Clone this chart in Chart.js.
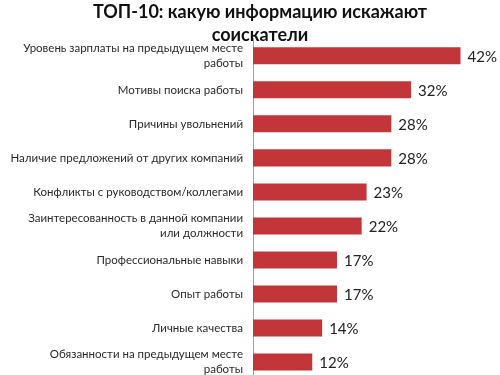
<!DOCTYPE html>
<html lang="ru">
<head>
    <meta charset="UTF-8">
    <title>ТОП-10</title>
    <script src="https://cdn.jsdelivr.net/npm/chart.js@4.4.0/dist/chart.umd.min.js"></script>
    <style>
        html, body { margin: 0; padding: 0; background: #fff; overflow: hidden; }
        .wrap { position: relative; width: 500px; height: 380px; }
    </style>
</head>
<body>
    <div class="wrap">
        <canvas id="myChart" width="500" height="380"></canvas>
    </div>

    <script>
        const titleLines = ['ТОП-10: какую информацию искажают', 'соискатели'];
        const categories = [
            ['Уровень зарплаты на предыдущем месте', 'работы'],
            'Мотивы поиска работы',
            'Причины увольнений',
            'Наличие предложений от других компаний',
            'Конфликты с руководством/коллегами',
            ['Заинтересованность в данной компании', 'или должности'],
            'Профессиональные навыки',
            'Опыт работы',
            'Личные качества',
            ['Обязанности на предыдущем месте', 'работы']
        ];
        const values = [42, 32, 28, 28, 23, 22, 17, 17, 14, 12];

        // draws the "42%" labels at the end of each bar
        const valueLabels = {
            id: 'valueLabels',
            afterLayout(chart) {
                // let long category labels use the left padding instead of being clipped
                chart.scales.y.left = 0;
            },
            afterDatasetsDraw(chart) {
                const ctx = chart.ctx;
                const meta = chart.getDatasetMeta(0);
                ctx.save();
                ctx.font = '15px Lato, "Open Sans", sans-serif';
                ctx.fillStyle = '#222';
                ctx.textAlign = 'left';
                ctx.textBaseline = 'middle';
                meta.data.forEach((bar, i) => {
                    ctx.fillText(values[i] + '%', bar.x + 7, bar.y + 1);
                });
                ctx.restore();
            }
        };

        // slight top-to-bottom shading like the original bars
        function barFill(context) {
            const bar = context.element;
            if (!bar || bar.y === undefined) return '#c2363a';
            const c = context.chart.ctx;
            const h = bar.height || 17;
            const g = c.createLinearGradient(0, bar.y - h / 2, 0, bar.y + h / 2);
            g.addColorStop(0, '#cf4a4c');
            g.addColorStop(0.5, '#c2363a');
            g.addColorStop(1, '#a8282c');
            return g;
        }

        const ctx = document.getElementById('myChart').getContext('2d');
        const myChart = new Chart(ctx, {
            type: 'bar',
            data: {
                labels: categories,
                datasets: [{
                    data: values,
                    backgroundColor: barFill,
                    borderWidth: 0,
                    barPercentage: 0.5,
                    categoryPercentage: 1
                }]
            },
            options: {
                indexAxis: 'y',
                responsive: false,
                animation: false,
                layout: { padding: { left: 20, right: 0, top: 0, bottom: 1 } },
                plugins: {
                    legend: { display: false },
                    tooltip: { enabled: false },
                    title: {
                        display: true,
                        text: titleLines,
                        color: '#111',
                        font: { family: 'Lato, "Open Sans", sans-serif', size: 18, weight: 'bold', lineHeight: 1.3 },
                        padding: { top: 0, bottom: -8 }
                    }
                },
                scales: {
                    x: {
                        display: false,
                        min: 0,
                        max: 50
                    },
                    y: {
                        afterFit(scale) {
                            scale.width = 233;
                            scale.paddingTop = 0;
                            scale.paddingBottom = 0;
                        },
                        grid: { display: false, drawTicks: false },
                        border: { display: true, color: '#a0a0a0', width: 1 },
                        ticks: {
                            color: '#2a2a2a',
                            padding: 10,
                            font: { family: 'Lato, "Open Sans", sans-serif', size: 11.5, lineHeight: 1.3 }
                        }
                    }
                }
            },
            plugins: [valueLabels]
        });
    </script>
</body>
</html>
